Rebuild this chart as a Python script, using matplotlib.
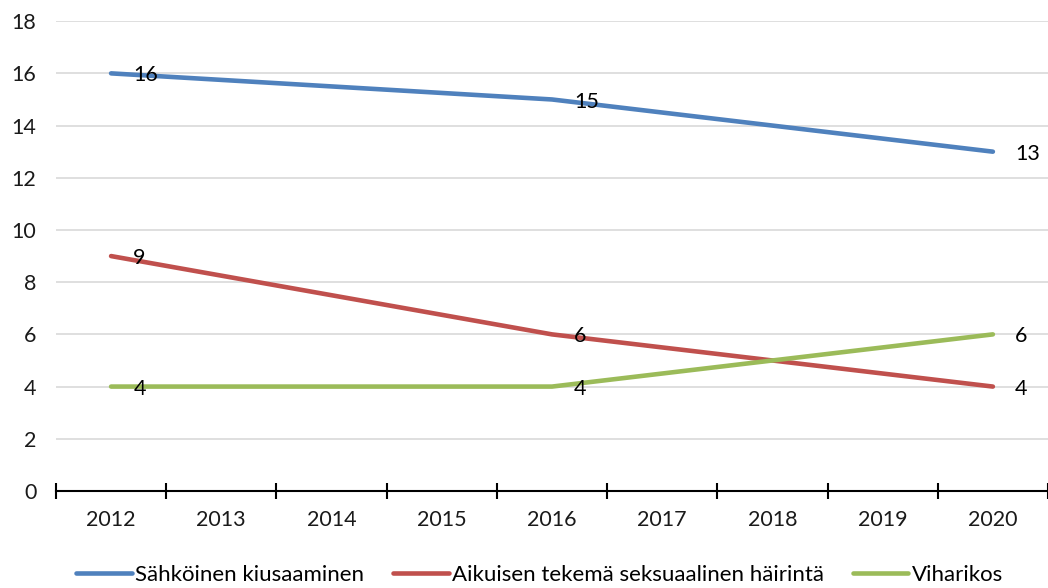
import matplotlib
matplotlib.use("Agg")
import matplotlib.pyplot as plt

years = ["2012", "2013", "2014", "2015", "2016", "2017", "2018", "2019", "2020"]
data_years = ["2012", "2016", "2020"]
series_names = ["Sähköinen kiusaaminen", "Aikuisen tekemä seksuaalinen häirintä", "Viharikos"]
sahkoinen = [16, 15, 13]
aikuisen = [9, 6, 4]
viharikos = [4, 4, 6]
colors = ["#4F81BD", "#C0504D", "#9BBB59"]

plt.rcParams['font.family'] = ['Lato', 'DejaVu Sans']

fig = plt.figure(figsize=(10.48, 5.88), dpi=100)
ax = fig.add_axes([0.0534, 0.165, 0.9466, 0.799])

xpos = [years.index(y) for y in data_years]
for name, vals, c in zip(series_names, [sahkoinen, aikuisen, viharikos], colors):
    ax.plot(xpos, vals, color=c, lw=3.3, solid_capstyle='round', label=name)
    for x, v in zip(xpos, vals):
        ax.annotate(str(v), (x, v), xytext=(16, -1.5), textcoords='offset points',
                    ha='left', va='center', fontsize=15.5, color='#000000')

ax.set_xlim(-0.5, len(years) - 0.5)
ax.set_ylim(0, 18)
ax.set_yticks(range(0, 19, 2))
ax.yaxis.grid(True, color='#D9D9D9', lw=1.2)
ax.set_axisbelow(True)
ax.tick_params(axis='y', length=0, labelsize=15.5, pad=14, labelcolor='#1a1a1a')

ax.set_xticks([i - 0.5 for i in range(len(years) + 1)])
ax.set_xticklabels([])
ax.set_xticks(range(len(years)), minor=True)
ax.set_xticklabels(years, minor=True)
ax.tick_params(axis='x', which='major', direction='inout', length=11, width=1.5, color='black')
ax.tick_params(axis='x', which='minor', length=0, labelsize=15.5, pad=14, labelcolor='#1a1a1a')

for s in ['top', 'right', 'left']:
    ax.spines[s].set_visible(False)
ax.spines['bottom'].set_color('black')
ax.spines['bottom'].set_linewidth(1.5)

handles, labels = ax.get_legend_handles_labels()
fig.legend(handles, labels, loc='center', bbox_to_anchor=(0.515, 0.022), ncol=3,
           frameon=False, fontsize=16, handlelength=2.5, handletextpad=0.15, columnspacing=1.3,
           borderpad=0, borderaxespad=0)

fig.savefig("out.png", dpi=100)
